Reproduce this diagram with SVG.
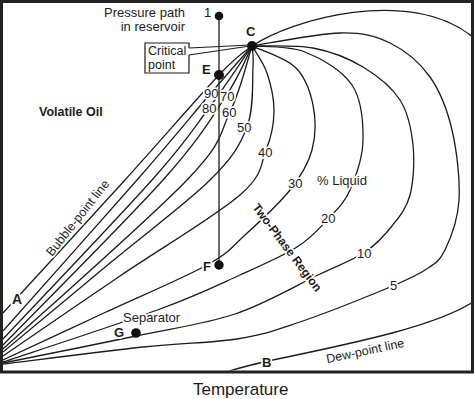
<svg xmlns="http://www.w3.org/2000/svg" width="474" height="399" viewBox="0 0 474 399">
<style>
.c{fill:none;stroke:#1c1c1c;stroke-width:1.3;stroke-linejoin:round}
text{font-family:"Liberation Sans",Arial,sans-serif;fill:#1c1c1c;font-size:13px}
.b{font-weight:bold}
.h{stroke:#fff;stroke-width:3.5;stroke-linejoin:round;paint-order:stroke}
.dot{fill:#111}
</style>
<defs>
<clipPath id="frameClip"><rect x="3" y="3" width="468" height="367.5"/></clipPath>
</defs>
<rect width="474" height="399" fill="#fff"/>
<rect id="frame" x="1.5" y="1.5" width="471" height="370.5" fill="none" stroke="#222" stroke-width="3"/>
<g id="connectors" clip-path="url(#frameClip)">
<path id="bubble" class="c" d="M3,313 C23.3,290.8 89,219.7 125,180 C161,140.3 197.8,97.3 219,75 C240.2,52.7 246.5,50.8 252,46"/>
<path id="q90" class="c" d="M3,331 C25.3,305.8 102.3,219.7 137,180 C171.7,140.3 191.8,115.3 211,93 C230.2,70.7 245.2,53.8 252,46"/>
<path id="q80" class="c" d="M3,339 C27.8,312.5 117.7,218.5 152,180 C186.3,141.5 192.3,130.3 209,108 C225.7,85.7 244.8,56.3 252,46"/>
<path id="q70" class="c" d="M3,345 C29.7,317.5 125.8,221.5 163,180 C200.2,138.5 211.2,118.3 226,96 C240.8,73.7 247.7,54.3 252,46"/>
<path id="q60" class="c" d="M3,349 C33.7,320.8 149.2,219.5 187,180 C224.8,140.5 219.2,134.3 230,112 C240.8,89.7 248.3,57 252,46"/>
<path id="q50" class="c" d="M3,352 C20.8,337.2 75.5,291.7 110,263 C144.5,234.3 187.2,202.7 210,180 C232.8,157.3 239.8,145.8 247,127 C254.2,108.2 252.2,80.5 253,67 C253.8,53.5 252.2,49.5 252,46"/>
<path id="q40" class="c" d="M3,356 C22.5,342.7 80.5,302.8 120,276 C159.5,249.2 215.7,216 240,195 C264.3,174 260.3,163.8 266,150 C271.7,136.2 273.8,124.8 274,112 C274.2,99.2 270.7,84 267,73 C263.3,62 254.5,50.5 252,46"/>
<path id="q30" class="c" d="M3,360 C20,352.1 71,328.3 105,312.5 C139,296.7 183.7,278 207,265 C230.3,252 231.2,247.5 245,235 C258.8,222.5 278.8,204.2 290,190 C301.2,175.8 308.2,164.2 312,150 C315.8,135.8 315.8,118.8 313,105 C310.2,91.2 305.2,76.8 295,67 C284.8,57.2 259.2,49.5 252,46"/>
<path id="q20" class="c" d="M3,362 C29.2,353.2 120.5,323.5 160,309 C199.5,294.5 217.2,285.3 240,275 C262.8,264.7 282.3,256.3 297,247 C311.7,237.7 319.2,228.5 328,219 C336.8,209.5 344.2,203.2 350,190 C355.8,176.8 362.7,157.5 363,140 C363.3,122.5 361.7,99.7 352,85 C342.3,70.3 321.7,58.5 305,52 C288.3,45.5 260.8,47 252,46"/>
<path id="q10" class="c" d="M3,363 C25.2,358.5 97.3,344.2 136,336 C174.7,327.8 204.3,324.3 235,314 C265.7,303.7 298.3,284.3 320,274 C341.7,263.7 353,260 365,252 C377,244 384.5,235.5 392,226 C399.5,216.5 406.5,208.5 410,195 C413.5,181.5 414.7,160.8 413,145 C411.3,129.2 408.3,113 400,100 C391.7,87 377.5,75.7 363,67 C348.5,58.3 331.5,51.5 313,48 C294.5,44.5 262.2,46.3 252,46"/>
<path id="q5" class="c" d="M3,364 C26.3,361.2 104,351.2 143,347 C182,342.8 211.3,343 237,339 C262.7,335 272.7,331.2 297,323 C321.3,314.8 361.7,298.8 383,290 C404.3,281.2 414.7,276.7 425,270 C435.3,263.3 439.3,261.7 445,250 C450.7,238.3 457.8,220 459,200 C460.2,180 456.8,150.5 452,130 C447.2,109.5 440.3,91.5 430,77 C419.7,62.5 405,50.3 390,43 C375,35.7 363,32.5 340,33 C317,33.5 266.7,43.8 252,46"/>
<path id="dewTop" class="c" d="M252,46 C290,20 410,-15 474,38"/>
<path id="dewBottom" class="c" d="M476,300 C440,325 360,342 268,361 C250,365 235,369 220,374"/>
</g>
<g id="labels">
<text class="h" x="204" y="98">90</text>
<text class="h" x="220" y="101">70</text>
<text class="h" x="202" y="113">80</text>
<text class="h" x="222" y="117">60</text>
<text class="h" x="237" y="132">50</text>
<text class="h" x="258" y="157">40</text>
<text class="h" x="288" y="188">30</text>
<text class="h" x="321" y="223">20</text>
<text class="h" x="357" y="258">10</text>
<text class="h" x="390" y="290">5</text>
<text class="h" x="317" y="185">% Liquid</text>
<text class="h b" x="284" y="250" style="font-size:12px" text-anchor="middle" transform="rotate(53 284 250)">Two-Phase Region</text>
<text class="h" x="81" y="220.5" style="font-size:12.5px" text-anchor="middle" transform="rotate(-51.5 81 220.5)">Bubble-point line</text>
<text x="366" y="355" style="font-size:12.5px" text-anchor="middle" transform="rotate(-12 366 355)">Dew-point line</text>
<text class="b" x="39" y="116" style="font-size:12.5px">Volatile Oil</text>
<text x="185" y="17" text-anchor="end">Pressure path</text>
<text x="185" y="31" text-anchor="end">in reservoir</text>
<text x="204" y="17">1</text>
<text class="h" x="123" y="322">Separator</text>
<text x="193" y="395" style="font-size:17px">Temperature</text>
</g>
<g id="pathLine">
<line x1="219" y1="16" x2="219" y2="265" stroke="#1c1c1c" stroke-width="1.3"/>
</g>
<g id="callout">
<path d="M189,48 L250,45 M189,55 L250,46" stroke="#1c1c1c" stroke-width="1.2" fill="none"/>
<path d="M189,48 V43 H145 V73 H189 V55" fill="#fff" stroke="#1c1c1c" stroke-width="1.2"/>
<text x="148" y="54.5" style="font-size:12.5px">Critical</text>
<text x="148" y="68.5" style="font-size:12.5px">point</text>
</g>
<g id="node-1"><circle class="dot" cx="219" cy="16" r="4.3"/></g>
<g id="node-C"><circle class="dot" cx="252" cy="46" r="5"/><text class="b" x="246" y="36">C</text></g>
<g id="node-E"><circle class="dot" cx="219" cy="75" r="5"/><text class="b h" x="202" y="74">E</text></g>
<g id="node-F"><circle class="dot" cx="219" cy="265" r="4.7"/><text class="b h" x="203" y="271">F</text></g>
<g id="node-G"><circle class="dot" cx="136" cy="333" r="4.8"/><text class="b h" x="114" y="337">G</text></g>
<g id="node-A"><text class="b h" x="12" y="304" style="font-size:14px">A</text></g>
<g id="node-B"><text class="b h" x="262" y="367">B</text></g>
</svg>
